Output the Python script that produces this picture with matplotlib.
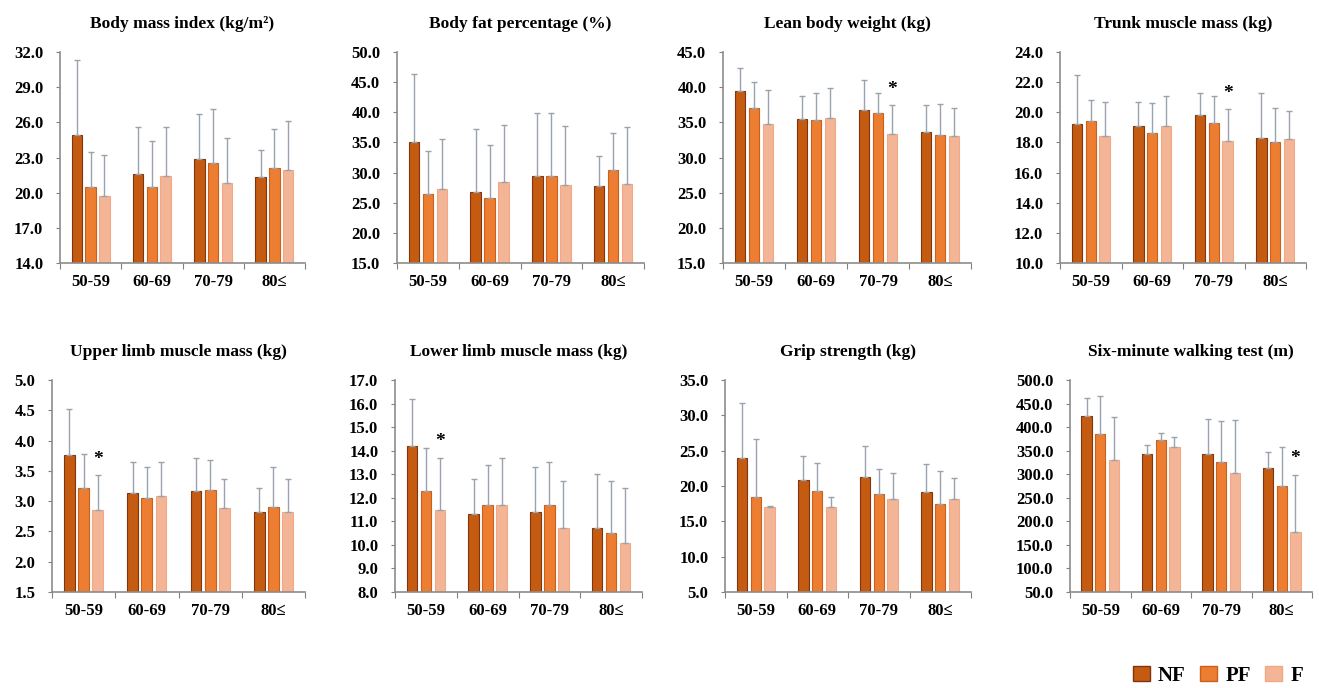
import matplotlib.pyplot as plt
import numpy as np
from matplotlib.patches import Patch

plt.rcParams['font.family'] = ['Liberation Serif', 'DejaVu Serif']

groups = ['50-59', '60-69', '70-79', '80≤']
series = ['NF', 'PF', 'F']
colors = ['#C55A11', '#ED7D31', '#F4B596']
edges = ['#7F3510', '#C8611E', '#F0A886']

titles = ['Body mass index (kg/m²)', 'Body fat percentage (%)', 'Lean body weight (kg)',
          'Trunk muscle mass (kg)', 'Upper limb muscle mass (kg)', 'Lower limb muscle mass (kg)',
          'Grip strength (kg)', 'Six-minute walking test (m)']

# means per series (NF, PF, F) and upper SD
bmi_mean = [[24.9, 21.6, 22.9, 21.3], [20.5, 20.5, 22.5, 22.1], [19.7, 21.4, 20.8, 21.9]]
bmi_sd = [[6.4, 4.0, 3.8, 2.3], [3.0, 3.9, 4.6, 3.3], [3.5, 4.2, 3.9, 4.2]]
fat_mean = [[35.0, 26.8, 29.4, 27.8], [26.4, 25.8, 29.4, 30.4], [27.3, 28.4, 27.9, 28.1]]
fat_sd = [[11.4, 10.4, 10.4, 5.0], [7.2, 8.8, 10.4, 6.2], [8.3, 9.5, 9.9, 9.5]]
lbw_mean = [[39.5, 35.5, 36.8, 33.6], [37.0, 35.3, 36.3, 33.2], [34.7, 35.6, 33.4, 33.0]]
lbw_sd = [[3.2, 3.3, 4.2, 3.8], [3.8, 3.8, 2.8, 4.4], [4.9, 4.3, 4.0, 4.1]]
trunk_mean = [[19.2, 19.1, 19.8, 18.3], [19.4, 18.6, 19.3, 18.0], [18.4, 19.1, 18.1, 18.2]]
trunk_sd = [[3.3, 1.6, 1.5, 3.0], [1.4, 2.0, 1.8, 2.3], [2.3, 2.0, 2.1, 1.9]]
upper_mean = [[3.77, 3.14, 3.16, 2.82], [3.21, 3.05, 3.18, 2.91], [2.86, 3.09, 2.89, 2.82]]
upper_sd = [[0.75, 0.50, 0.56, 0.40], [0.57, 0.51, 0.50, 0.66], [0.57, 0.55, 0.48, 0.55]]
lower_mean = [[14.2, 11.3, 11.4, 10.7], [12.3, 11.7, 11.7, 10.5], [11.5, 11.7, 10.7, 10.1]]
lower_sd = [[2.0, 1.5, 1.9, 2.3], [1.8, 1.7, 1.8, 2.2], [2.2, 2.0, 2.0, 2.3]]
grip_mean = [[23.9, 20.8, 21.3, 19.1], [18.5, 19.3, 18.8, 17.4], [17.0, 17.0, 18.1, 18.2]]
grip_sd = [[7.8, 3.4, 4.4, 4.0], [8.2, 4.0, 3.6, 4.7], [0.1, 1.5, 3.7, 2.9]]
walk_mean = [[423, 343, 343, 313], [385, 372, 326, 275], [330, 358, 303, 178]]
walk_sd = [[39, 19, 75, 35], [82, 15, 87, 83], [91, 22, 113, 121]]

means = [bmi_mean, fat_mean, lbw_mean, trunk_mean, upper_mean, lower_mean, grip_mean, walk_mean]
sds = [bmi_sd, fat_sd, lbw_sd, trunk_sd, upper_sd, lower_sd, grip_sd, walk_sd]
yranges = [(14, 32, 3), (15, 50, 5), (15, 45, 5), (10, 24, 2),
           (1.5, 5.0, 0.5), (8, 17, 1), (5, 35, 5), (50, 500, 50)]
# (panel, group index) with significant marker above F
stars = [(2, 2), (3, 2), (4, 0), (5, 0), (7, 3)]

W, H = 1319, 688
lefts = [60, 397, 723, 1060, 52, 395, 725, 1070]
rights = [305, 644, 971, 1306, 305, 642, 971, 1312]
tops = [52, 52, 52, 52, 380, 380, 380, 380]
bottoms = [263, 263, 263, 263, 592, 592, 592, 592]

fig = plt.figure(figsize=(W / 100, H / 100), dpi=100)

x = np.arange(len(groups)) + 0.5
offs = [-0.225, 0.0, 0.225]
bw = 0.17

for p in range(8):
    ax = fig.add_axes([lefts[p] / W, 1 - bottoms[p] / H,
                       (rights[p] - lefts[p]) / W, (bottoms[p] - tops[p]) / H])
    lo, hi, st = yranges[p]
    for s in range(3):
        ax.bar(x + offs[s], means[p][s], bw, bottom=0, color=colors[s],
               edgecolor=edges[s], linewidth=0.8, zorder=2)
        ax.errorbar(x + offs[s], means[p][s], yerr=[np.zeros(4), sds[p][s]],
                    fmt='none', ecolor='#9AA3AD', elinewidth=1, capsize=2.5,
                    capthick=1, zorder=3)
    for (sp, g) in stars:
        if sp == p:
            ytop = means[p][2][g] + sds[p][2][g]
            ax.text(x[g] + offs[2], ytop + 0.035 * (hi - lo), '*', ha='center',
                    va='bottom', fontsize=14, fontweight='bold')
    ticks = np.arange(lo, hi + st / 2, st)
    ax.set_ylim(lo, hi)
    ax.set_xlim(0, 4)
    ax.set_yticks(ticks)
    ax.set_yticklabels(['%.1f' % v for v in ticks], fontsize=12, fontweight='bold')
    ax.set_xticks(np.arange(0, 5))
    ax.set_xticklabels([])
    ax.set_xticks(x, minor=True)
    ax.set_xticklabels(groups, minor=True, fontsize=12, fontweight='bold')
    ax.tick_params(axis='x', which='major', direction='out', length=4, color='#808080')
    ax.tick_params(axis='x', which='minor', length=0, pad=8)
    ax.tick_params(axis='y', direction='out', length=3, color='#808080', pad=9)
    for side in ['top', 'right']:
        ax.spines[side].set_visible(False)
    for side in ['left', 'bottom']:
        ax.spines[side].set_color('#8C8C8C')
        ax.spines[side].set_linewidth(1.2)
    ax.set_title(titles[p], fontsize=12.5, fontweight='bold', pad=17)

handles = [Patch(facecolor=colors[i], edgecolor=edges[i], label=series[i]) for i in range(3)]
fig.legend(handles=handles, loc='center right', bbox_to_anchor=(1303 / W, 1 - 676 / H), ncol=3,
           frameon=False, prop={'size': 15, 'weight': 'bold'}, borderpad=0, borderaxespad=0,
           handlelength=0.8, handleheight=0.7, handletextpad=0.4, columnspacing=0.7)

plt.savefig('out.png', dpi=100)
